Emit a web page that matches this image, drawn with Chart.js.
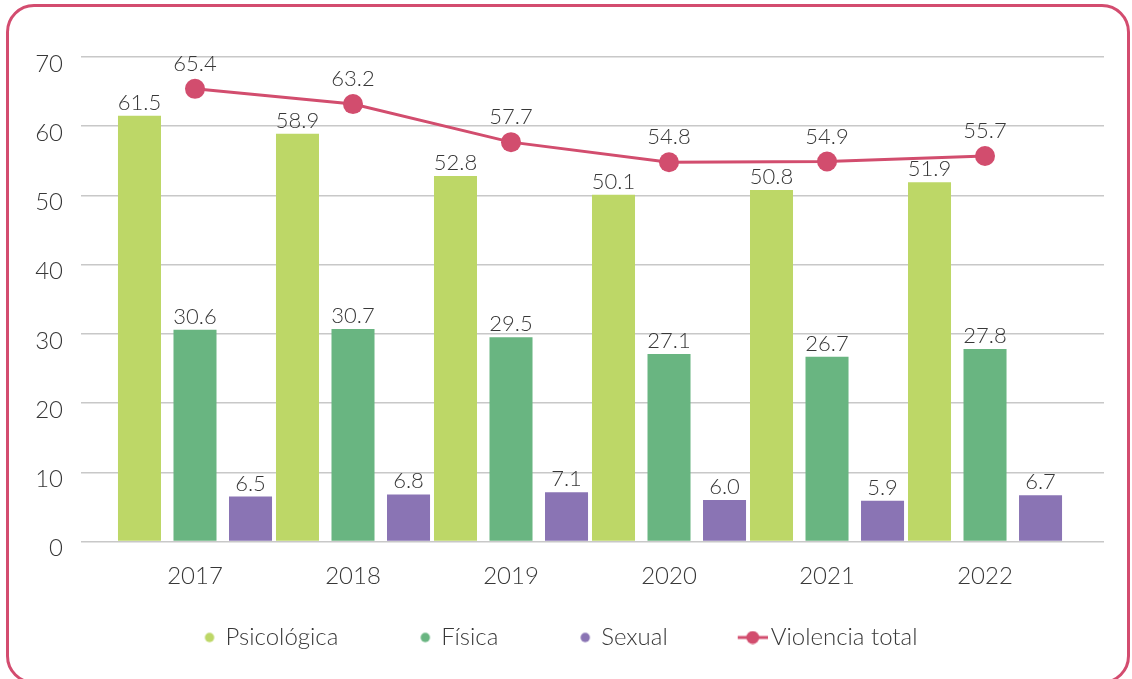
<!DOCTYPE html>
<html>
<head>
<meta charset="utf-8">
<script src="https://cdn.jsdelivr.net/npm/chart.js@4.4.1/dist/chart.umd.min.js"></script>
<style>
	html, body { margin: 0; padding: 0; background: #fff; }
	#wrap { position: relative; width: 1132px; height: 679px; overflow: hidden; }
	#frame {
		position: absolute; left: 6px; top: 4px; width: 1118px; height: 674px;
		border: 3px solid #d34c6f; border-radius: 28px; pointer-events: none;
	}
	canvas { position: absolute; left: 0; top: 0; }
</style>
</head>
<body>
<div id="wrap">
	<canvas id="chart" width="1132" height="679"></canvas>
	<div id="frame"></div>
</div>
<script>
var years = ['2017', '2018', '2019', '2020', '2021', '2022'];
var psicologica = [61.5, 58.9, 52.8, 50.1, 50.8, 51.9];
var fisica = [30.6, 30.7, 29.5, 27.1, 26.7, 27.8];
var sexual = [6.5, 6.8, 7.1, 6.0, 5.9, 6.7];
var violenciaTotal = [65.4, 63.2, 57.7, 54.8, 54.9, 55.7];
var yTicks = [0, 10, 20, 30, 40, 50, 60, 70];

var colPsico = '#bdd767';
var colFisica = '#69b581';
var colSexual = '#8a74b4';
var colTotal = '#d24d6e';
var textColor = '#383838';
var fontFamily = 'Lato, "Open Sans", sans-serif';

function toPoints(values) {
	var pts = [];
	for (var i = 0; i < values.length; i++) {
		pts.push({ x: i, y: values[i] });
	}
	return pts;
}

// legend markers drawn into small canvases so the spacing looks like the original
function makeMarker(color, isLine) {
	var c = document.createElement('canvas');
	c.width = 79;
	c.height = 14;
	var ctx = c.getContext('2d');
	ctx.fillStyle = color;
	ctx.strokeStyle = color;
	if (isLine) {
		ctx.lineWidth = 3;
		ctx.beginPath();
		ctx.moveTo(49, 7);
		ctx.lineTo(79, 7);
		ctx.stroke();
		ctx.beginPath();
		ctx.arc(64, 7, 6.5, 0, Math.PI * 2);
		ctx.fill();
	} else {
		ctx.beginPath();
		ctx.arc(66, 7, 4.7, 0, Math.PI * 2);
		ctx.fill();
	}
	return c;
}

var valueLabels = {
	id: 'valueLabels',
	afterDatasetsDraw: function(chart) {
		var ctx = chart.ctx;
		ctx.save();
		ctx.fillStyle = textColor;
		ctx.font = '300 22px ' + fontFamily;
		ctx.textAlign = 'center';
		ctx.textBaseline = 'alphabetic';
		chart.data.datasets.forEach(function(ds, di) {
			var meta = chart.getDatasetMeta(di);
			meta.data.forEach(function(el, i) {
				var v = ds.data[i].y;
				var off = ds.type === 'line' ? 18 : 6;
				ctx.fillText(v.toFixed(1), el.x, el.y - off);
			});
		});
		ctx.restore();
	}
};

// the wide markers push the centred legend to the right, pull it back
var legendShift = {
	id: 'legendShift',
	afterLayout: function(chart) {
		chart.legend.left -= 17;
		chart.legend.right -= 17;
	}
};

var chartData = {
	datasets: [
		{
			type: 'line',
			label: 'Violencia total',
			data: toPoints(violenciaTotal),
			borderColor: colTotal,
			backgroundColor: colTotal,
			borderWidth: 3,
			pointRadius: 10,
			pointHoverRadius: 10,
			pointBackgroundColor: colTotal,
			pointBorderWidth: 0,
			tension: 0,
			order: 0,
			legendMarker: makeMarker(colTotal, true)
		},
		{
			type: 'bar',
			label: 'Psicológica',
			data: toPoints(psicologica),
			backgroundColor: colPsico,
			order: 1,
			legendMarker: makeMarker(colPsico, false)
		},
		{
			type: 'bar',
			label: 'Física',
			data: toPoints(fisica),
			backgroundColor: colFisica,
			order: 1,
			legendMarker: makeMarker(colFisica, false)
		},
		{
			type: 'bar',
			label: 'Sexual',
			data: toPoints(sexual),
			backgroundColor: colSexual,
			order: 1,
			legendMarker: makeMarker(colSexual, false)
		}
	]
};

var chart = new Chart(document.getElementById('chart'), {
	data: chartData,
	options: {
		responsive: false,
		animation: false,
		events: [],
		categoryPercentage: 1.054,
		barPercentage: 0.775,
		layout: {
			padding: { left: 0, right: 28, top: 57, bottom: 19.5 }
		},
		scales: {
			x: {
				type: 'linear',
				offset: false,
				min: -0.7215,
				max: 5.753,
				grid: { display: false, offset: false },
				border: { display: false },
				afterFit: function(scale) { scale.height = 54; },
				ticks: {
					stepSize: 1,
					includeBounds: false,
					autoSkip: false,
					maxRotation: 0,
					padding: 12,
					color: textColor,
					font: { family: fontFamily, size: 24, weight: '300' },
					callback: function(v) {
						return years[v] !== undefined ? years[v] : '';
					}
				}
			},
			y: {
				min: 0,
				max: 70,
				afterFit: function(scale) { scale.width = 81; },
				afterBuildTicks: function(scale) {
					scale.ticks = yTicks.map(function(v) { return { value: v }; });
				},
				grid: { color: '#c8c8c8', lineWidth: 1.5, drawTicks: false },
				border: { display: false },
				ticks: {
					padding: 18,
					labelOffset: 7,
					color: textColor,
					font: { family: fontFamily, size: 24, weight: '300' }
				}
			}
		},
		plugins: {
			tooltip: { enabled: false },
			legend: {
				position: 'bottom',
				labels: {
					usePointStyle: true,
					pointStyleWidth: 61,
					boxHeight: 14,
					padding: 30,
					color: textColor,
					font: { family: fontFamily, size: 24, weight: '300' },
					generateLabels: function(ch) {
						var order = [1, 2, 3, 0];
						return order.map(function(di) {
							var ds = ch.data.datasets[di];
							return {
								text: ds.label,
								fillStyle: ds.backgroundColor,
								strokeStyle: ds.backgroundColor,
								lineWidth: 0,
								pointStyle: ds.legendMarker,
								fontColor: textColor,
								hidden: false,
								datasetIndex: di
							};
						});
					}
				}
			}
		}
	},
	plugins: [valueLabels, legendShift]
});
</script>
</body>
</html>
